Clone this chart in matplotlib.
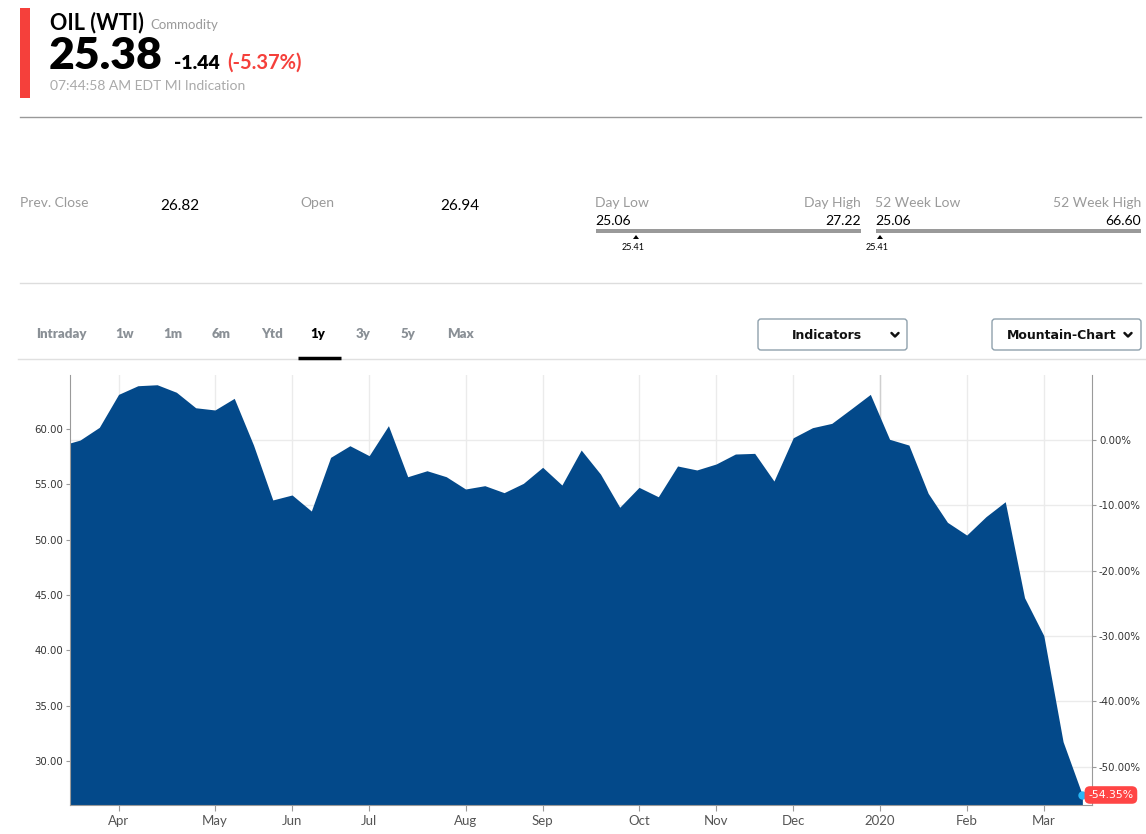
import matplotlib
matplotlib.use('Agg')
import matplotlib.pyplot as plt
from matplotlib.patches import Rectangle, FancyBboxPatch, Polygon
from matplotlib.ticker import FuncFormatter
import matplotlib.transforms as mtransforms
import numpy as np

plt.rcParams['font.family'] = ['Lato', 'DejaVu Sans']

# weekly closes (first value is the week just left of the visible window)
prices = [58.5, 59.0, 60.15, 63.13, 63.91, 64.00, 63.32, 61.92, 61.72, 62.77, 58.55,
          53.59, 54.04, 52.59, 57.44, 58.49, 57.59, 60.30, 55.69, 56.23, 55.69,
          54.58, 54.88, 54.25, 55.09, 56.54, 54.94, 58.10, 55.93, 52.93, 54.73,
          53.88, 56.66, 56.30, 56.84, 57.74, 57.80, 55.30, 59.21, 60.12, 60.51,
          61.81, 63.13, 59.07, 58.55, 54.19, 51.57, 50.42, 52.08, 53.43, 44.76,
          41.33, 31.75, 26.935]
month_pos = [2, 7, 11, 15, 20, 24, 29, 33, 37, 41.5, 46, 50]
month_labels = ['Apr', 'May', 'Jun', 'Jul', 'Aug', 'Sep', 'Oct', 'Nov', 'Dec', '2020', 'Feb', 'Mar']
price_ticks = [30, 35, 40, 45, 50, 55, 60]
pct_ticks = [0, -10, -20, -30, -40, -50]

name = "OIL (WTI)"
kind = "Commodity"
last = "25.38"
change = "-1.44"
change_pct = "(-5.37%)"
stamp = "07:44:58 AM EDT MI Indication"
prev_close = "26.82"
open_px = "26.94"
day_low, day_high = "25.06", "27.22"
wk_low, wk_high = "25.06", "66.60"
marker_val = "25.41"
tabs = ['Intraday', '1w', '1m', '6m', 'Ytd', '1y', '3y', '5y', 'Max']
tab_x = [61, 125, 173, 221, 272, 318, 363, 408, 460]

RED = '#f5403b'
BLUE = '#03498a'
GREY = '#9a9a9a'

fig = plt.figure(figsize=(11.46, 8.34), dpi=100)

# page layer in pixel coords
bg = fig.add_axes([0, 0, 1, 1])
bg.set_xlim(0, 1146)
bg.set_ylim(834, 0)
bg.axis('off')

# header
bg.add_patch(Rectangle((20, 8), 10, 90, fc=RED, ec='none'))
bg.text(50, 29, name, fontsize=15.5, fontweight='bold', color='black', va='baseline')
bg.text(150, 28.5, kind, fontsize=9.5, color=GREY, va='baseline')
bg.text(49, 68.5, last, fontsize=32, fontweight='heavy', color='black', va='baseline')
bg.text(174, 68.5, change, fontsize=14, fontweight='heavy', color='black', va='baseline')
bg.text(227, 68.5, change_pct, fontsize=14.5, fontweight='bold', color=RED, va='baseline')
bg.text(50, 90, stamp, fontsize=10, color='#aaaaaa', va='baseline')
bg.plot([20, 1141], [117, 117], color='#999999', lw=1)

# stats row
bg.text(20, 207, "Prev. Close", fontsize=10, color=GREY, va='baseline')
bg.text(160, 210, prev_close, fontsize=11, color='black', va='baseline')
bg.text(300, 207, "Open", fontsize=10, color=GREY, va='baseline')
bg.text(440, 210, open_px, fontsize=11, color='black', va='baseline')

for x0, x1, lo_lab, hi_lab, lo, hi, mx in [(596, 861, "Day Low", "Day High", day_low, day_high, 636),
                                          (876, 1141, "52 Week Low", "52 Week High", wk_low, wk_high, 880)]:
    bg.text(x0 - 1, 207, lo_lab, fontsize=10, color=GREY, va='baseline')
    bg.text(x1, 207, hi_lab, fontsize=10, color=GREY, va='baseline', ha='right')
    bg.text(x0 - 1, 225, lo, fontsize=10, color='black', va='baseline')
    bg.text(x1, 225, hi, fontsize=10, color='black', va='baseline', ha='right')
    bg.add_patch(Rectangle((x0, 229), x1 - x0, 4, fc='#9a9a9a', ec='none'))
    bg.add_patch(Polygon([(mx - 3, 239), (mx + 3, 239), (mx, 235)], closed=True, fc='black', ec='none'))
    bg.text(mx - 3, 250, marker_val, fontsize=6.5, color='black', va='baseline', ha='center')

bg.plot([20, 1141], [283, 283], color='#dddddd', lw=1)

# tabs
for t, tx in zip(tabs, tab_x):
    bg.text(tx, 338, t, fontsize=9.5, fontweight='heavy', color='black' if t == '1y' else '#8a9096',
            ha='center', va='baseline')
bg.plot([18, 1146], [359, 359], color='#e0e0e0', lw=1)
bg.plot([298, 341], [358, 358], color='black', lw=2.5, solid_capstyle='butt')

# dropdown buttons
for bx, label, tx, cx in [(758, "Indicators", 827, 895), (992, "Mountain-Chart", 1062, 1128)]:
    bg.add_patch(FancyBboxPatch((bx, 319), 149, 31, boxstyle='round,pad=0,rounding_size=3',
                                fc='white', ec='#8fa1ad', lw=1))
    bg.text(tx, 338.5, label, fontsize=9, fontweight='bold', family='DejaVu Sans',
            color='#111111', ha='center', va='baseline')
    bg.plot([cx - 3.5, cx, cx + 3.5], [333, 336.5, 333], color='#111111', lw=1.8,
            solid_capstyle='round', solid_joinstyle='round')

# chart
ax = fig.add_axes([70 / 1146, 1 - 805 / 834, (1092 - 70) / 1146, (805 - 375) / 834])
x = np.arange(-1, len(prices) - 1)
ax.fill_between(x, prices, 0, color=BLUE, lw=0, zorder=2)
ax.set_xlim(-0.52, 52.5)
lo, hi = 26.03, 64.88
ax.set_ylim(lo, hi)

base = prices[1]
ax2 = ax.twinx()
ax2.set_ylim((lo / base - 1) * 100, (hi / base - 1) * 100)
ax.set_zorder(2)
ax2.set_zorder(1)
ax.patch.set_visible(False)

ax.set_xticks(month_pos)
ax.set_xticklabels(month_labels)
ax.xaxis.grid(True, color='#ebebeb', lw=1)
ax.axvline(month_pos[month_labels.index('2020')], color='#cfcfcf', lw=1, zorder=1.6)
ax.set_yticks(price_ticks)
ax.yaxis.set_major_formatter(FuncFormatter(lambda v, p: '%.2f' % v))
ax2.set_yticks(pct_ticks)
ax2.yaxis.set_major_formatter(FuncFormatter(lambda v, p: '%.2f%%' % v))
ax2.yaxis.grid(True, color='#ebebeb', lw=1)

for s in ['top', 'right']:
    ax.spines[s].set_visible(False)
for s in ['top', 'left', 'bottom']:
    ax2.spines[s].set_visible(False)
ax.spines['left'].set_color('#9a9a9a')
ax.spines['bottom'].set_color('#9a9a9a')
ax2.spines['right'].set_color('#9a9a9a')

ax.tick_params(axis='x', length=4, color='#9a9a9a', labelsize=9.5, labelcolor='#555555', pad=3)
ax.tick_params(axis='y', length=3, color='#9a9a9a', labelsize=7.3, labelcolor='#333333', pad=2)
for lab in ax.get_yticklabels():
    lab.set_family('DejaVu Sans')
ax2.tick_params(axis='y', length=3, color='#9a9a9a', labelsize=7.3, labelcolor='#333333', pad=2)
for lab in ax2.get_yticklabels():
    lab.set_family('DejaVu Sans')
    lab.set_verticalalignment('center_baseline')

# last point marker and tag
ax.plot(x[-1], prices[-1], 'o', color='#29b6f6', ms=5, zorder=5, clip_on=False)
pct_last = (prices[-1] / base - 1) * 100
trans = mtransforms.blended_transform_factory(ax.transAxes, ax.transData)
ax.text(1.0185, prices[-1], '%.2f%%' % pct_last, transform=trans, fontsize=7.8,
        family='DejaVu Sans', color='white', ha='center', va='center', zorder=6,
        bbox=dict(boxstyle='round,pad=0.35,rounding_size=0.5', fc='#ff4545', ec='none'))

plt.savefig('out.png', dpi=100)
